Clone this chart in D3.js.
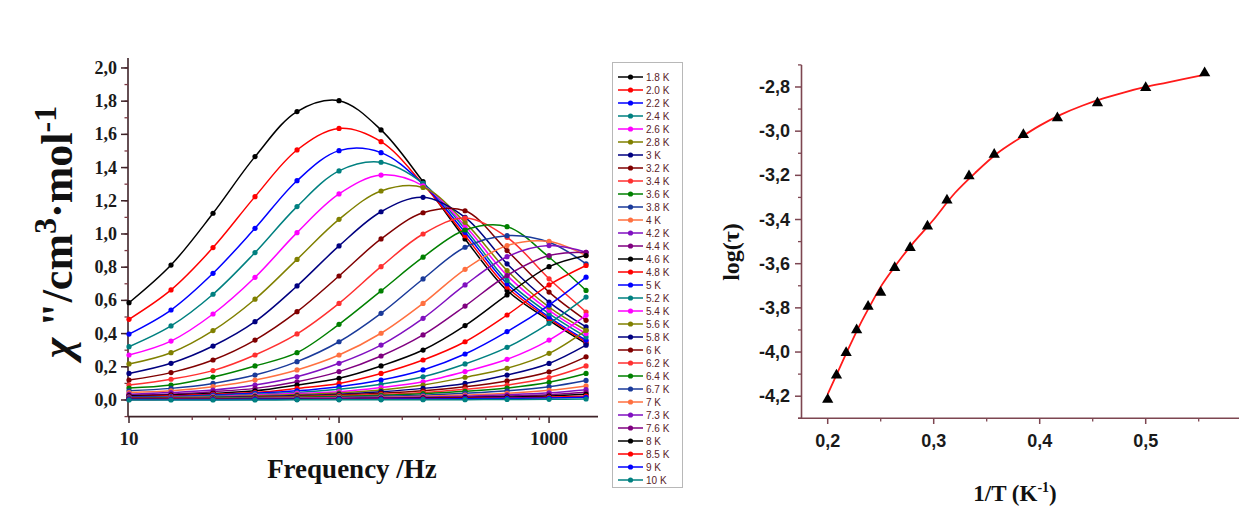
<!DOCTYPE html>
<html>
<head>
<meta charset="utf-8">
<script src="https://cdn.jsdelivr.net/npm/d3@7"></script>
<style>
  body { margin: 0; background: #fff; }
  svg { display: block; }
</style>
</head>
<body>
<svg id="chart" width="1239" height="506"></svg>
<script>
// ---- AC susceptibility: frequency points (Hz) ----
const frequencies = [10, 15.85, 25.12, 39.81, 63.1, 100, 158.5, 251.2, 398.1, 631, 1000, 1500];

// temperature labels for each chi'' series
const temperatures = ["1.8 K","2.0 K","2.2 K","2.4 K","2.6 K","2.8 K","3 K","3.2 K","3.4 K","3.6 K",
  "3.8 K","4 K","4.2 K","4.4 K","4.6 K","4.8 K","5 K","5.2 K","5.4 K","5.6 K","5.8 K","6 K",
  "6.2 K","6.4 K","6.7 K","7 K","7.3 K","7.6 K","8 K","8.5 K","9 K","10 K"];

// repeating series colour cycle
const colorCycle = ["#000000","#ff0000","#0000ff","#008080","#ff00ff","#808000","#000080",
  "#800000","#ff3030","#008000","#1a3a9a","#ff7040","#8010c0","#800080"];

// chi'' (cm3/mol) per temperature, one value per frequency
const chi18 = [0.586,0.813,1.125,1.466,1.737,1.803,1.627,1.315,0.97,0.66,0.48,0.34];
const chi20 = [0.486,0.663,0.918,1.225,1.506,1.636,1.556,1.30,0.99,0.68,0.49,0.35];
const chi22 = [0.397,0.542,0.763,1.034,1.321,1.502,1.49,1.30,1.01,0.70,0.50,0.36];
const chi24 = [0.321,0.446,0.637,0.888,1.165,1.38,1.432,1.305,1.03,0.72,0.52,0.38];
const chi26 = [0.271,0.355,0.518,0.739,1.008,1.241,1.355,1.29,1.05,0.75,0.54,0.40];
const chi28 = [0.217,0.285,0.418,0.607,0.847,1.088,1.259,1.28,1.07,0.78,0.56,0.42];
const chi30 = [0.16,0.221,0.325,0.472,0.687,0.928,1.134,1.221,1.10,0.82,0.59,0.44];
const chi32 = [0.12,0.165,0.241,0.361,0.532,0.747,0.97,1.128,1.14,0.90,0.65,0.48];
const chi34 = [0.09,0.125,0.177,0.271,0.398,0.582,0.803,1.0,1.096,0.98,0.73,0.53];
const chi36 = [0.072,0.09,0.138,0.205,0.285,0.456,0.657,0.86,1.024,1.044,0.86,0.66];
const chi38 = [0.055,0.07,0.10,0.15,0.231,0.351,0.522,0.729,0.92,0.99,0.95,0.82];
const chi40 = [0.045,0.055,0.08,0.12,0.181,0.271,0.402,0.582,0.787,0.93,0.955,0.87];
const chi42 = [0.035,0.045,0.06,0.09,0.14,0.221,0.331,0.492,0.693,0.863,0.93,0.89];
const chi44 = [0.03,0.035,0.05,0.07,0.11,0.171,0.265,0.392,0.566,0.75,0.87,0.89];
const chi46 = [0.025,0.03,0.04,0.055,0.09,0.131,0.205,0.301,0.448,0.633,0.803,0.87];
const chi48 = [0.02,0.025,0.035,0.045,0.07,0.10,0.16,0.241,0.351,0.512,0.693,0.81];
const chi50 = [0.018,0.02,0.03,0.04,0.055,0.08,0.12,0.181,0.277,0.412,0.572,0.74];
const chi52 = [0.015,0.018,0.025,0.035,0.045,0.065,0.095,0.14,0.217,0.317,0.462,0.62];
const chi54 = [0.013,0.015,0.02,0.03,0.04,0.05,0.075,0.11,0.171,0.245,0.361,0.51];
const chi56 = [0.012,0.013,0.018,0.025,0.033,0.042,0.06,0.09,0.137,0.191,0.281,0.42];
const chi58 = [0.01,0.012,0.015,0.02,0.027,0.035,0.05,0.07,0.10,0.15,0.22,0.33];
const chi60 = [0.01,0.011,0.013,0.017,0.022,0.03,0.04,0.055,0.08,0.115,0.17,0.26];
const chi62 = [0.009,0.01,0.012,0.015,0.019,0.025,0.033,0.045,0.065,0.09,0.135,0.205];
const chi64 = [0.008,0.009,0.011,0.013,0.016,0.021,0.028,0.038,0.052,0.072,0.107,0.16];
const chi67 = [0.007,0.008,0.009,0.011,0.013,0.017,0.022,0.029,0.04,0.055,0.08,0.118];
const chi70 = [0.006,0.007,0.008,0.009,0.011,0.014,0.017,0.022,0.03,0.04,0.058,0.085];
const chi73 = [0.005,0.006,0.007,0.008,0.009,0.011,0.014,0.018,0.023,0.031,0.043,0.062];
const chi76 = [0.005,0.005,0.006,0.007,0.008,0.009,0.011,0.014,0.018,0.024,0.032,0.046];
const chi80 = [0.004,0.004,0.005,0.006,0.007,0.008,0.009,0.011,0.014,0.018,0.024,0.034];
const chi85 = [0.003,0.004,0.004,0.005,0.005,0.006,0.007,0.008,0.01,0.013,0.017,0.023];
const chi90 = [0.003,0.003,0.003,0.004,0.004,0.005,0.005,0.006,0.008,0.01,0.012,0.016];
const chi100 = [0.0,0.0,0.0,0.0,0.001,0.001,0.001,0.002,0.002,0.003,0.004,0.006];

const chiSeries = [chi18,chi20,chi22,chi24,chi26,chi28,chi30,chi32,chi34,chi36,chi38,chi40,
  chi42,chi44,chi46,chi48,chi50,chi52,chi54,chi56,chi58,chi60,chi62,chi64,chi67,chi70,chi73,
  chi76,chi80,chi85,chi90,chi100];

// left axis ticks
const chiTicks = [0,0.2,0.4,0.6,0.8,1.0,1.2,1.4,1.6,1.8,2.0];
const freqTicks = [10,100,1000];

// ---- Arrhenius plot: relaxation times ----
const invT = [0.5556,0.5,0.4545,0.4167,0.3846,0.3571,0.3333,0.3125,0.2941,0.2778,0.2632,0.25,0.2381,0.2273,0.2174,0.2083,0.2];
const logTau = [-2.737,-2.803,-2.872,-2.940,-3.016,-3.106,-3.203,-3.313,-3.430,-3.528,-3.618,-3.730,-3.794,-3.900,-4.003,-4.105,-4.215];

// fitted curve, sampled
const fitInvT = [0.2,0.21,0.22,0.23,0.24,0.25,0.26,0.27,0.28,0.29,0.30,0.32,0.34,0.36,0.38,0.40,0.42,0.44,0.46,0.48,0.50,0.52,0.555];
const fitLogTau = [-4.19,-4.085,-3.98,-3.88,-3.79,-3.705,-3.635,-3.57,-3.51,-3.455,-3.40,-3.28,-3.185,-3.10,-3.035,-2.975,-2.925,-2.885,-2.852,-2.824,-2.80,-2.78,-2.745];

const tauTicks = [-4.2,-4.0,-3.8,-3.6,-3.4,-3.2,-3.0,-2.8];
const invTTicks = [0.2,0.3,0.4,0.5];

// one decimal, comma separator, plain hyphen for negatives
const comma = v => d3.format(".1f")(v).replace(".", ",").replace("\u2212", "-");

const svg = d3.select("#chart");

// ================= left panel =================
const axisColL = "#3e2328";
const xL = d3.scaleLog().domain([10, 1710]).range([129, 598]);
const yL = d3.scaleLinear().domain([-0.1, 2.06]).range([416.6, 58]);

const gL = svg.append("g");

// y axis
gL.append("line").attr("x1", 128).attr("x2", 128).attr("y1", yL.range()[1]).attr("y2", 416.6)
  .attr("stroke", axisColL).attr("stroke-width", 1.6);
const yMinor = d3.range(-0.1, 2.05, 0.1).map(v => +v.toFixed(2));
gL.selectAll(".yminor").data(yMinor).join("line")
  .attr("x1", 128).attr("x2", 124.5).attr("y1", d => yL(d)).attr("y2", d => yL(d))
  .attr("stroke", "#7a3a44").attr("stroke-width", 1.3);
gL.selectAll(".ymajor").data(chiTicks).join("line")
  .attr("x1", 128).attr("x2", 121).attr("y1", d => yL(d)).attr("y2", d => yL(d))
  .attr("stroke", axisColL).attr("stroke-width", 1.5);
gL.selectAll(".ylab").data(chiTicks).join("text")
  .attr("x", 117).attr("y", d => yL(d) + 6)
  .attr("text-anchor", "end")
  .attr("font-family", "Liberation Serif, Times New Roman, serif")
  .attr("font-weight", "bold").attr("font-size", 18).attr("fill", "#1a1a1a")
  .text(comma);

// x axis
gL.append("line").attr("x1", 128).attr("x2", 598).attr("y1", 416.6).attr("y2", 416.6)
  .attr("stroke", axisColL).attr("stroke-width", 1.6);
const xMinor = [];
[10, 100, 1000].forEach(dec => { for (let k = 2; k <= 9; k++) if (dec * k <= 1710) xMinor.push(dec * k); });
gL.selectAll(".xminor").data(xMinor).join("line")
  .attr("x1", d => xL(d)).attr("x2", d => xL(d)).attr("y1", 416.6).attr("y2", 420)
  .attr("stroke", "#7a3a44").attr("stroke-width", 1.3);
gL.selectAll(".xmajor").data(freqTicks).join("line")
  .attr("x1", d => xL(d)).attr("x2", d => xL(d)).attr("y1", 416.6).attr("y2", 423)
  .attr("stroke", axisColL).attr("stroke-width", 1.5);
gL.selectAll(".xlab").data(freqTicks).join("text")
  .attr("x", d => xL(d)).attr("y", 445)
  .attr("text-anchor", "middle")
  .attr("font-family", "Liberation Serif, Times New Roman, serif")
  .attr("font-weight", "bold").attr("font-size", 19).attr("fill", "#1a1a1a")
  .text(d => d);

gL.append("text").attr("x", 352).attr("y", 478).attr("text-anchor", "middle")
  .attr("font-family", "Liberation Serif, Times New Roman, serif")
  .attr("font-weight", "bold").attr("font-size", 27).attr("fill", "#111")
  .text("Frequency /Hz");

// y title: chi''/cm3·mol-1
const yTitle = gL.append("text")
  .attr("transform", "translate(72,232) rotate(-90)")
  .attr("text-anchor", "middle")
  .attr("font-family", "Liberation Serif, Times New Roman, serif")
  .attr("font-weight", "bold").attr("font-size", 44).attr("fill", "#111");
yTitle.append("tspan").attr("font-style", "italic").text("χ");
yTitle.append("tspan").text(" \"/cm");
yTitle.append("tspan").attr("dy", -16).attr("font-size", 32).text("3");
yTitle.append("tspan").attr("dy", 16).text("·mol");
yTitle.append("tspan").attr("dy", -16).attr("font-size", 32).text("-1");

// curves
const lineL = d3.line()
  .x((d, i) => xL(frequencies[i]))
  .y(d => yL(d))
  .curve(d3.curveCatmullRom.alpha(0.5));

const series = chiSeries.map((vals, k) => ({ vals, color: colorCycle[k % colorCycle.length], label: temperatures[k] }));

const gS = gL.append("g");
series.forEach(s => {
  const g = gS.append("g");
  g.append("path").attr("d", lineL(s.vals)).attr("fill", "none")
    .attr("stroke", s.color).attr("stroke-width", 1.5);
  g.selectAll("circle").data(s.vals).join("circle")
    .attr("cx", (d, i) => xL(frequencies[i])).attr("cy", d => yL(d))
    .attr("r", 2.6).attr("fill", s.color);
});

// legend
const legTop = 77, legStep = 13.0;
const gLeg = svg.append("g");
gLeg.append("rect").attr("x", 612.5).attr("y", 62.5).attr("width", 70).attr("height", 425)
  .attr("fill", "#fff").attr("stroke", "#b8b8b8").attr("stroke-width", 1);
series.forEach((s, k) => {
  const y = legTop + k * legStep;
  gLeg.append("line").attr("x1", 618).attr("x2", 643).attr("y1", y).attr("y2", y)
    .attr("stroke", s.color).attr("stroke-width", 1.5);
  gLeg.append("circle").attr("cx", 630.5).attr("cy", y).attr("r", 2.6).attr("fill", s.color);
  gLeg.append("text").attr("x", 646).attr("y", y + 3.6)
    .attr("font-family", "Liberation Sans, Arial, sans-serif")
    .attr("font-size", 10).attr("fill", "#5a2228").text(s.label);
});

// ================= right panel =================
const axisColR = "#7d4651";
const xR = d3.scaleLinear().domain([0.175, 0.58]).range([801.2, 1230.5]);
const yR = d3.scaleLinear().domain([-4.3, -2.7]).range([418.3, 64.9]);
const gR = svg.append("g");

gR.append("line").attr("x1", 801.5).attr("x2", 801.5).attr("y1", 64.9).attr("y2", 418.3)
  .attr("stroke", axisColR).attr("stroke-width", 1.6);
gR.append("line").attr("x1", 798).attr("x2", 1239).attr("y1", 418.3).attr("y2", 418.3)
  .attr("stroke", axisColR).attr("stroke-width", 1.6);

const tauMinor = [-4.3,-4.1,-3.9,-3.7,-3.5,-3.3,-3.1,-2.9,-2.7];
gR.selectAll(".tminor").data(tauMinor).join("line")
  .attr("x1", 801.5).attr("x2", 798).attr("y1", d => yR(d)).attr("y2", d => yR(d))
  .attr("stroke", axisColR).attr("stroke-width", 1.3);
gR.selectAll(".tmajor").data(tauTicks).join("line")
  .attr("x1", 801.5).attr("x2", 795).attr("y1", d => yR(d)).attr("y2", d => yR(d))
  .attr("stroke", axisColR).attr("stroke-width", 1.5);
gR.selectAll(".tlab").data(tauTicks).join("text")
  .attr("x", 790).attr("y", d => yR(d) + 6)
  .attr("text-anchor", "end")
  .attr("font-family", "Liberation Sans, Arial, sans-serif")
  .attr("font-weight", "bold").attr("font-size", 18).attr("fill", "#1a1a1a")
  .text(comma);

const invTMinor = [0.25,0.35,0.45,0.55];
gR.selectAll(".iminor").data(invTMinor).join("line")
  .attr("x1", d => xR(d)).attr("x2", d => xR(d)).attr("y1", 418.3).attr("y2", 421.5)
  .attr("stroke", axisColR).attr("stroke-width", 1.3);
gR.selectAll(".imajor").data(invTTicks).join("line")
  .attr("x1", d => xR(d)).attr("x2", d => xR(d)).attr("y1", 418.3).attr("y2", 424)
  .attr("stroke", axisColR).attr("stroke-width", 1.5);
gR.selectAll(".ilab").data(invTTicks).join("text")
  .attr("x", d => xR(d)).attr("y", 447)
  .attr("text-anchor", "middle")
  .attr("font-family", "Liberation Sans, Arial, sans-serif")
  .attr("font-weight", "bold").attr("font-size", 18).attr("fill", "#1a1a1a")
  .text(comma);

gR.append("text")
  .attr("transform", "translate(739,252) rotate(-90)")
  .attr("text-anchor", "middle")
  .attr("font-family", "Liberation Serif, Times New Roman, serif")
  .attr("font-weight", "bold").attr("font-size", 24).attr("fill", "#111")
  .text("log(τ)");

const xTitle = gR.append("text").attr("x", 1015).attr("y", 501).attr("text-anchor", "middle")
  .attr("font-family", "Liberation Serif, Times New Roman, serif")
  .attr("font-weight", "bold").attr("font-size", 23).attr("fill", "#111");
xTitle.append("tspan").text("1/T (K");
xTitle.append("tspan").attr("dy", -9).attr("font-size", 14).text("-1");
xTitle.append("tspan").attr("dy", 9).text(")");

// fit line
const lineR = d3.line().x((d, i) => xR(fitInvT[i])).y(d => yR(d)).curve(d3.curveCatmullRom.alpha(0.5));
gR.append("path").attr("d", lineR(fitLogTau)).attr("fill", "none")
  .attr("stroke", "#ff1a1a").attr("stroke-width", 1.8);

// data points
const tri = d3.symbol().type(d3.symbolTriangle).size(55);
gR.selectAll(".pt").data(logTau).join("path")
  .attr("d", tri)
  .attr("transform", (d, i) => `translate(${xR(invT[i])},${yR(d)})`)
  .attr("fill", "#000");
</script>
</body>
</html>
